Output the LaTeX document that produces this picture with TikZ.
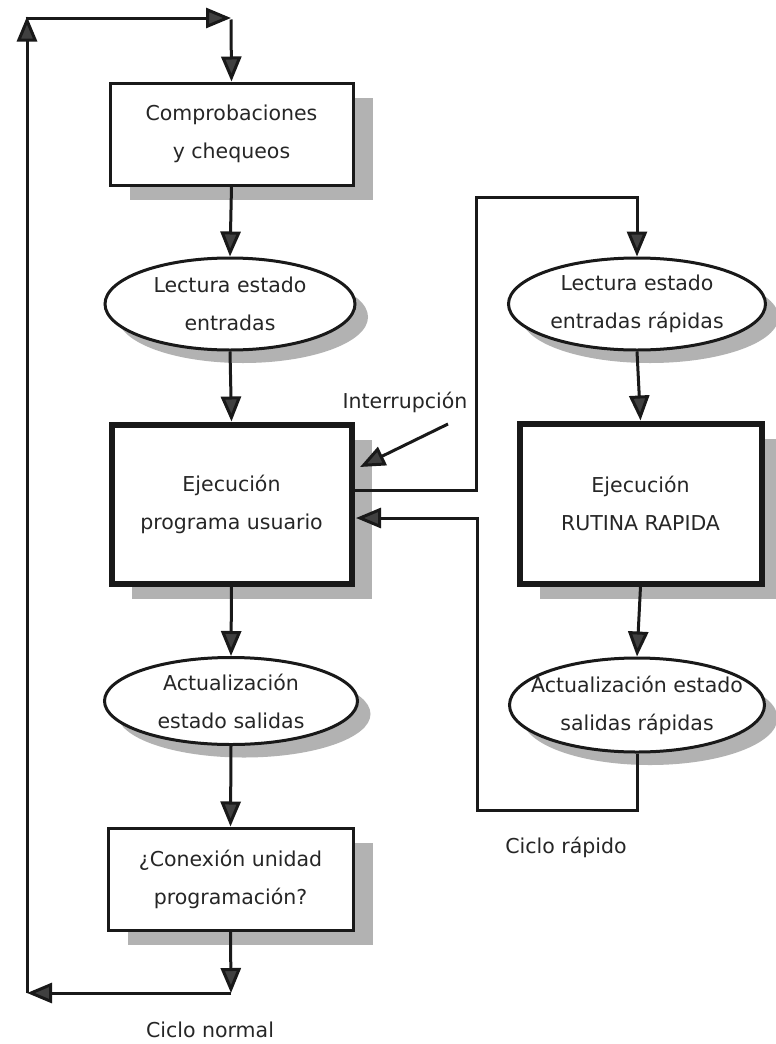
\documentclass[tikz,border=0pt]{standalone}
\usepackage{fontspec}
\setmainfont{DejaVu Sans}
\usetikzlibrary{shapes.geometric,arrows.meta,shadows}
\begin{document}
\begin{tikzpicture}[x=1pt,y=-1pt,
  txt/.style={font=\fontsize{20.5}{38}\selectfont, text=black!85, align=center},
  conn/.style={line width=3pt, draw=black!90, -{Triangle[length=25pt,width=20pt,fill=black!75]}},
  boxshadow/.style={drop shadow={shadow xshift=20pt, shadow yshift=-15pt, fill=black!30, opacity=1}},
  ellshadow/.style={drop shadow={shadow xshift=13pt, shadow yshift=-13pt, fill=black!30, opacity=1}},
  stepbox/.style={txt, draw=black!90, line width=3pt, fill=white, rectangle, inner sep=0pt, boxshadow},
  thickbox/.style={stepbox, line width=6pt},
  oval/.style={txt, draw=black!90, line width=3pt, fill=white, ellipse, inner sep=0pt, ellshadow}
]
\useasboundingbox (0,0) rectangle (776,1044);
\fill[white] (0,0) rectangle (776,1044);

% left column
\node[stepbox, minimum width=243pt, minimum height=102pt] (box1) at (231.5,134) {Comprobaciones\\y chequeos};
\node[oval, minimum width=250pt, minimum height=92pt] (ell1) at (230,304) {Lectura estado\\entradas};
\node[thickbox, minimum width=240pt, minimum height=159pt] (box2) at (231.5,504) {Ejecución\\programa usuario};
\node[oval, minimum width=253pt, minimum height=87pt] (ell2) at (231,701) {Actualización\\estado salidas};
\node[stepbox, minimum width=245pt, minimum height=102pt] (box4) at (230.5,879) {¿Conexión unidad\\programación?};

% right column
\node[oval, minimum width=257pt, minimum height=92pt, inner xsep=-8pt] (ell3) at (637,304) {Lectura estado\\entradas rápidas};
\node[thickbox, minimum width=242pt, minimum height=160pt] (box3) at (640.5,503.5) {Ejecución\\RUTINA RAPIDA};
\node[oval, minimum width=255pt, minimum height=94pt, inner xsep=-17pt, inner ysep=-4pt] (ell4) at (637,705) {Actualización estado\\salidas rápidas};

% labels
\node[txt] (lint) at (405,402) {Interrupción};
\node[txt] (lrap) at (566,847) {Ciclo rápido};
\node[txt] (lnor) at (210,1030) {Ciclo normal};

% coordinates
\coordinate (cB) at (231,993);
\coordinate (cBL) at (27,993);
\coordinate (cTL) at (27,18);
\coordinate (cT) at (231,18);
\coordinate (r1) at (354,490);
\coordinate (r2) at (476,490);
\coordinate (r3) at (476,197);
\coordinate (r4) at (637,197);
\coordinate (s1) at (637,810);
\coordinate (s2) at (477,810);
\coordinate (s3) at (477,518);
\coordinate (s4) at (356,518);
\coordinate (iS) at (448,424);
\coordinate (iE) at (360,467);

% normal cycle
\draw[conn] (box1.south) -- (ell1.north);
\draw[conn] (ell1.south) -- (box2.north);
\draw[conn] (box2.south) -- (ell2.north);
\draw[conn] (ell2.south) -- (box4.north);
\draw[conn] (box4.south) -- (cB);
\draw[conn] (cB) -- (cBL);
\draw[conn] (cBL) -- ([yshift=1.5pt]cTL);
\draw[conn] ([xshift=-1.5pt]cTL) -- (cT);
\draw[conn] ([yshift=-1.5pt]cT) -- (box1.north);

% fast cycle
\draw[conn] (r1) -- (r2) -- (r3) -- (r4) -- (ell3.north);
\draw[conn] (ell3.south) -- (box3.north);
\draw[conn] (box3.south) -- (ell4.north);
\draw[conn] (ell4.south) -- (s1) -- (s2) -- (s3) -- (s4);

% interrupt
\draw[conn] (iS) -- (iE);
\end{tikzpicture}
\end{document}
